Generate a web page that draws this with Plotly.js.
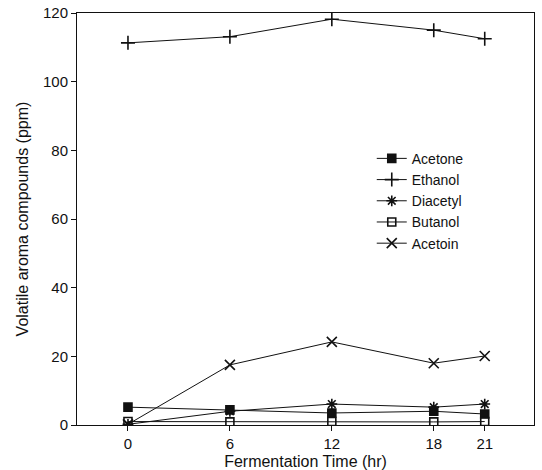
<!DOCTYPE html>
<html><head><meta charset="utf-8">
<script src="https://cdn.plot.ly/plotly-3.0.1.min.js"></script>
<style>body{margin:0;background:#fff}#c{width:542px;height:470px}</style>
</head><body><div id="c"></div>
<script>
const hours = [0, 6, 12, 18, 21];
const acetone = [5.2, 4.4, 3.5, 4.0, 3.2];
const ethanol = [111.3, 113.1, 118.2, 115.0, 112.5];
const diacetyl = [0.2, 4.0, 6.1, 5.2, 6.1];
const butanol = [1.0, 0.9, 1.0, 0.9, 1.0];
const acetoin = [0.2, 17.5, 24.2, 18.0, 20.1];
const names = ["Acetone", "Ethanol", "Diacetyl", "Butanol", "Acetoin"];
const series = [acetone, ethanol, diacetyl, butanol, acetoin];
const symbols = ["square", "cross-thin-open", "asterisk-open", "square-open", "x-thin-open"];
const sizes = [8, 10, 9, 8, 10];
const traces = series.map((s, i) => ({
  x: hours, y: s, name: names[i], type: "scatter", mode: "lines+markers",
  line: {color: "#111", width: 1},
  marker: {symbol: symbols[i], size: sizes[i], color: "#111", line: {color: "#111", width: 1.6}}
}));
const fam = "Liberation Sans, Arial, sans-serif";
const font = {family: fam, size: 15, color: "#111"};
Plotly.newPlot("c", traces, {
  width: 542, height: 470,
  margin: {l: 77, r: 8, t: 13, b: 45},
  paper_bgcolor: "#fff", plot_bgcolor: "#fff",
  font: font,
  showlegend: true,
  legend: {x: 0.645, y: 0.685, xanchor: "left", yanchor: "top", bgcolor: "rgba(0,0,0,0)",
           font: {family: fam, size: 14, color: "#111"}, tracegroupgap: 0, itemwidth: 30},
  xaxis: {
    range: [-3.0, 23.9], tickvals: hours, ticktext: hours.map(String),
    ticks: "outside", ticklen: 5, tickcolor: "#111", showgrid: false, zeroline: false,
    showline: true, linecolor: "#111", linewidth: 1, mirror: true,
    title: {text: "Fermentation Time (hr)", font: {family: fam, size: 16, color: "#111"}, standoff: 6},
    tickfont: {family: fam, size: 15, color: "#111"}
  },
  yaxis: {
    range: [0, 120], tickvals: [0, 20, 40, 60, 80, 100, 120],
    ticks: "outside", ticklen: 5, tickcolor: "#111", showgrid: false, zeroline: false,
    showline: true, linecolor: "#111", linewidth: 1, mirror: true,
    title: {text: "Volatile aroma compounds (ppm)", font: {family: fam, size: 16, color: "#111"}, standoff: 10},
    tickfont: {family: fam, size: 15, color: "#111"}
  }
}, {displayModeBar: false, staticPlot: true});
</script></body></html>
